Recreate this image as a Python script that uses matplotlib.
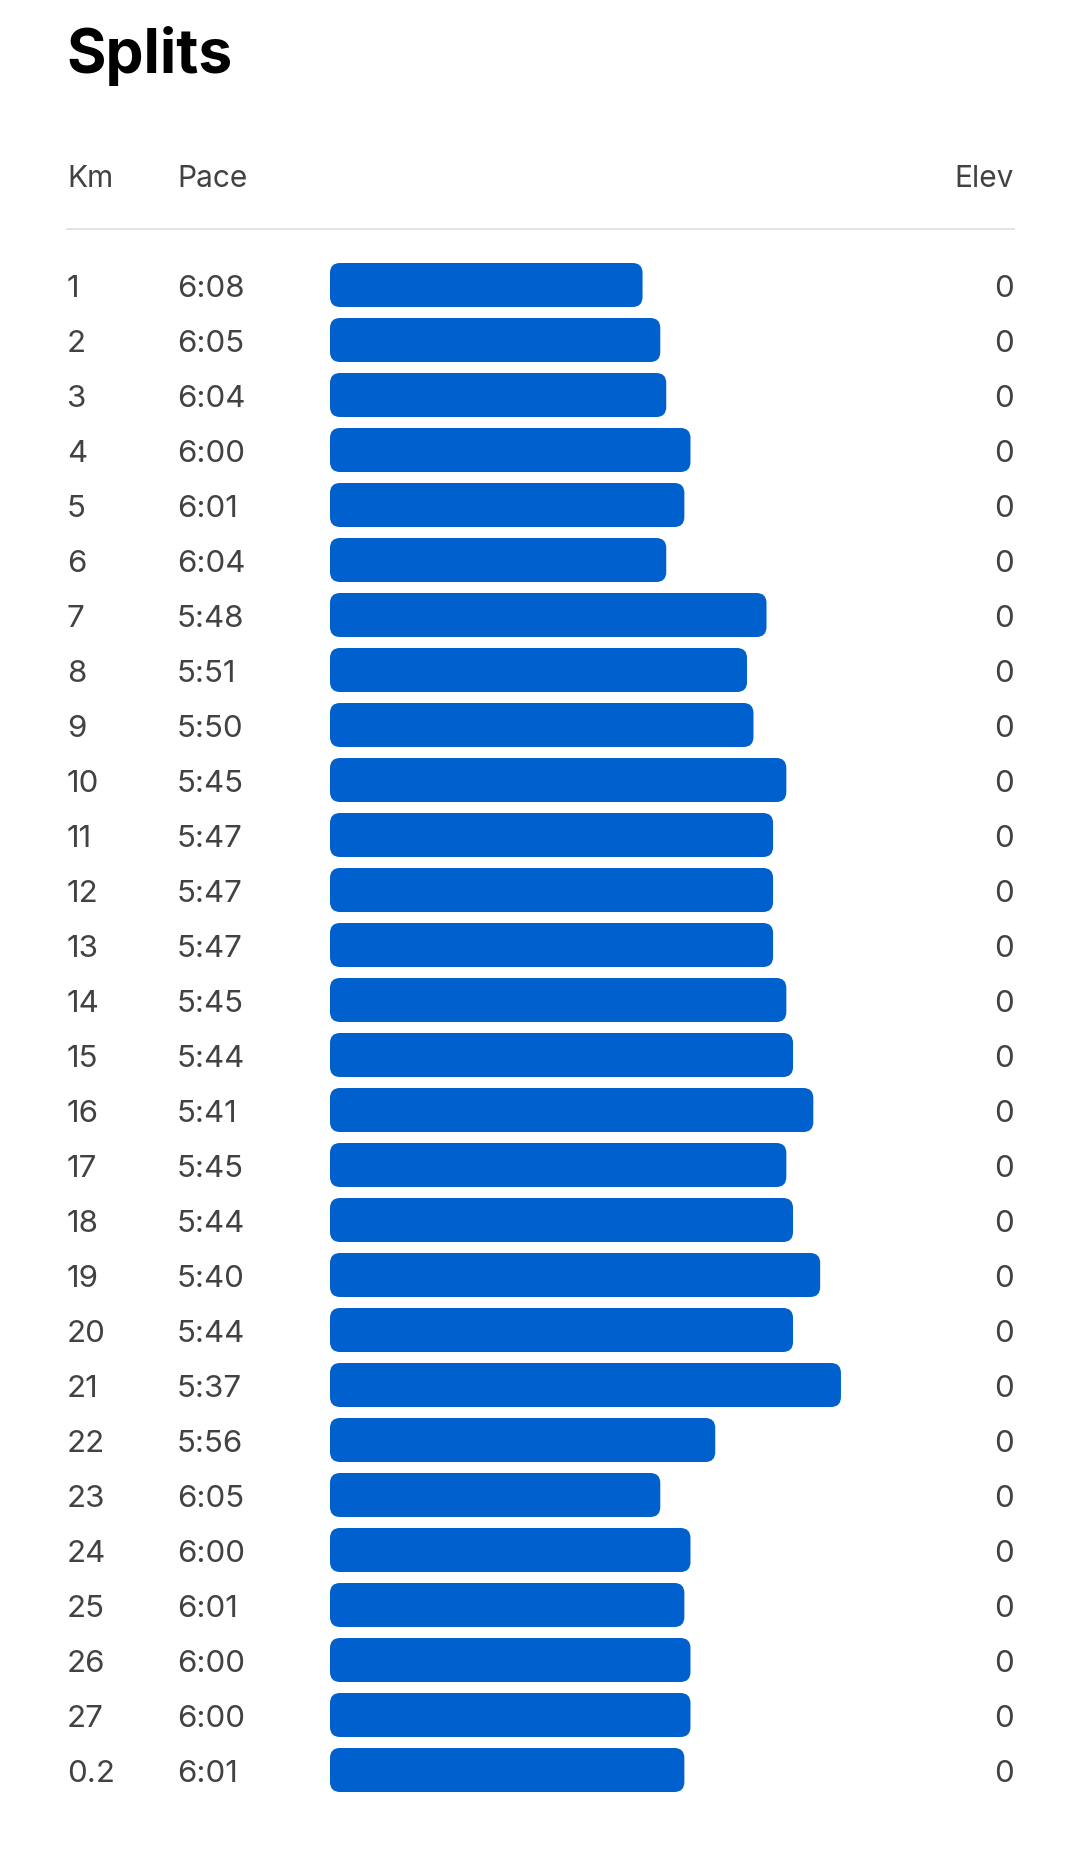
import matplotlib
matplotlib.use("Agg")
import matplotlib.pyplot as plt
from matplotlib.patches import FancyBboxPatch
from matplotlib.transforms import blended_transform_factory

# split data
km_labels = [str(i) for i in range(1, 28)] + ["0.2"]
paces = ["6:08", "6:05", "6:04", "6:00", "6:01", "6:04", "5:48", "5:51", "5:50",
         "5:45", "5:47", "5:47", "5:47", "5:45", "5:44", "5:41", "5:45", "5:44",
         "5:40", "5:44", "5:37", "5:56", "6:05", "6:00", "6:01", "6:00", "6:00",
         "6:01"]
elev = [0] * 28

W, H = 1079, 1851
DPI = 100
BAR_COLOR = "#0060CE"
TEXT_COLOR = "#424242"
SPEED_MIN = 2.3236       # m/s where the bars start
PX_PER_MPS = 793.7


def speed(p):
    m, s = p.split(":")
    return 1000.0 / (int(m) * 60 + int(s))


speeds = [speed(p) for p in paces]

plt.rcParams["font.family"] = ["Inter", "DejaVu Sans"]
fig = plt.figure(figsize=(W / DPI, H / DPI), dpi=DPI)
fig.patch.set_facecolor("white")


def fx(px):
    return px / W


def fy(px):
    return 1 - px / H


LEFT, PACE_X, RIGHT = 67, 177, 1014

# bar area: rows are 55 px apart, first row centred at y=285
n = len(paces)
row_h = 55
top = 285 - row_h / 2
bar_left = 330
ax = fig.add_axes([fx(bar_left), fy(top + n * row_h), (RIGHT - bar_left) / W, n * row_h / H])
ax.set_xlim(SPEED_MIN, SPEED_MIN + (RIGHT - bar_left) / PX_PER_MPS)
ax.set_ylim(n - 0.5, -0.5)
ax.axis("off")

bars = ax.barh(range(n), [v - SPEED_MIN for v in speeds], left=SPEED_MIN, height=0.8)

# swap plain bars for rounded ones (radius ~10 px)
radius_px = 10
x_units_per_px = 1 / PX_PER_MPS
y_units_per_px = 1 / row_h
for b in bars:
    x0, y0 = b.get_x(), b.get_y()
    w, h = b.get_width(), b.get_height()
    b.remove()
    patch = FancyBboxPatch((x0, y0), w, h,
                           boxstyle="round,pad=0,rounding_size=%f" % (radius_px * x_units_per_px),
                           mutation_aspect=y_units_per_px / x_units_per_px,
                           facecolor=BAR_COLOR, edgecolor="none")
    ax.add_patch(patch)

# row texts use figure x and data y
tr = blended_transform_factory(fig.transFigure, ax.transData)
for i in range(n):
    kw = dict(transform=tr, fontsize=22.5, color=TEXT_COLOR, va="center_baseline")
    ax.text(fx(LEFT), i + 0.02, km_labels[i], ha="left", **kw)
    ax.text(fx(PACE_X), i + 0.02, paces[i], ha="left", **kw)
    ax.text(fx(RIGHT), i + 0.02, str(elev[i]), ha="right", **kw)

# title and header
fig.text(fx(66), fy(73), "Splits", fontsize=43.5, fontweight="bold", color="black",
         ha="left", va="baseline")
for x, label, ha in [(LEFT, "Km", "left"), (PACE_X, "Pace", "left"), (RIGHT, "Elev", "right")]:
    fig.text(fx(x), fy(187), label, fontsize=21.5, color=TEXT_COLOR, ha=ha, va="baseline")

fig.add_artist(plt.Line2D([fx(LEFT), fx(RIGHT)], [fy(229), fy(229)], color="#dedede", lw=1.2))

fig.savefig("out.png", dpi=DPI, facecolor="white")
